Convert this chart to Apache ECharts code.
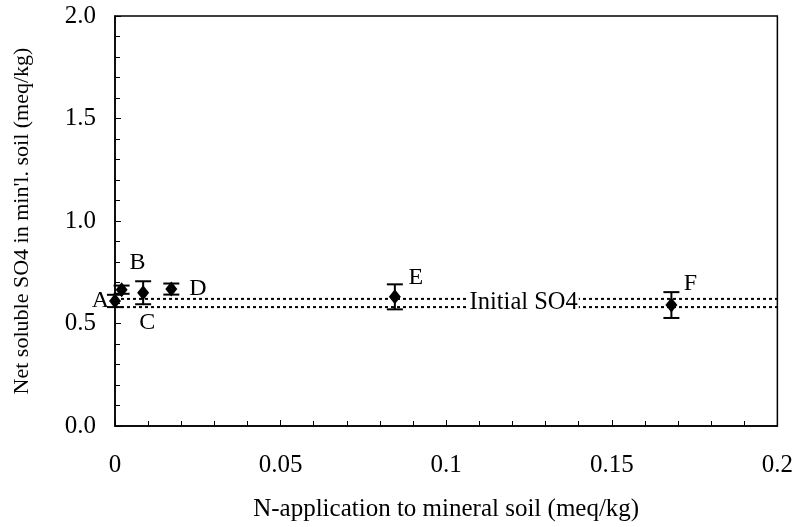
<!DOCTYPE html>
<html>
<head>
<meta charset="utf-8">
<script src="https://cdn.jsdelivr.net/npm/echarts@6/dist/echarts.min.js"></script>
<style>html,body{margin:0;padding:0;background:#fff}#chart{width:796px;height:527px}</style>
</head>
<body>
<div id="chart"></div>
<script>
// N-application (meq/kg) vs net soluble SO4 (meq/kg)
var names = ['A', 'B', 'C', 'D', 'E', 'F'];
var nApplied = [0, 0.002, 0.0085, 0.017, 0.0845, 0.168];
var so4 = [0.61, 0.665, 0.65, 0.668, 0.63, 0.59];
var so4Err = [0.03, 0.02, 0.056, 0.027, 0.061, 0.063];
var initialLow = 0.58;
var initialHigh = 0.62;
var initialMid = 0.60;
var initialText = 'Initial SO4';

var font = 'Liberation Serif, Times New Roman, serif';
var labelPos = {
  A: {position: 'left', offset: [5, 0]},
  B: {position: 'top', offset: [16, -2]},
  C: {position: 'bottom', offset: [4, 5]},
  D: {position: 'right', offset: [7, 0]},
  E: {position: 'top', offset: [21, 5]},
  F: {position: 'top', offset: [19, 3]}
};

var pts = nApplied.map(function (x, i) {
  var lp = labelPos[names[i]];
  return {
    value: [x, so4[i]],
    label: {show: true, formatter: names[i], position: lp.position, offset: lp.offset,
      color: '#000', fontFamily: font, fontSize: 24}
  };
});
var errData = nApplied.map(function (x, i) { return [x, so4[i] - so4Err[i], so4[i] + so4Err[i]]; });

var chart = echarts.init(document.getElementById('chart'));
chart.setOption({
  animation: false,
  grid: {left: 115, right: 18, top: 16, bottom: 101, show: true, borderColor: '#000', borderWidth: 1.5},
  xAxis: {
    type: 'value', min: 0, max: 0.2, interval: 0.05,
    name: 'N-application to mineral soil (meq/kg)', nameLocation: 'middle', nameGap: 71,
    nameTextStyle: {fontFamily: font, fontSize: 25, color: '#000'},
    axisLine: {show: true, onZero: false, lineStyle: {color: '#000', width: 1.5}},
    axisTick: {show: true, inside: true, length: 6, lineStyle: {color: '#000'}},
    minorTick: {show: true, splitNumber: 5, length: 5, lineStyle: {color: '#000'}},
    axisLabel: {margin: 27, fontFamily: font, fontSize: 25, color: '#000'},
    splitLine: {show: false}
  },
  yAxis: {
    type: 'value', min: 0, max: 2, interval: 0.5,
    name: "Net soluble SO4 in min'l. soil (meq/kg)", nameLocation: 'middle', nameGap: 82,
    nameTextStyle: {fontFamily: font, fontSize: 22, color: '#000'},
    axisLine: {show: true, lineStyle: {color: '#000', width: 1.5}},
    axisTick: {show: true, inside: true, length: 6, lineStyle: {color: '#000'}},
    minorTick: {show: true, splitNumber: 5, length: 5, lineStyle: {color: '#000'}},
    axisLabel: {margin: 19, fontFamily: font, fontSize: 25, color: '#000', padding: [6, 0, 0, 0],
      formatter: function (v) { return v.toFixed(1); }},
    splitLine: {show: false}
  },
  series: [
    {
      type: 'line', data: [[0, initialHigh], [0.2, initialHigh]], symbol: 'none', z: 1,
      lineStyle: {color: '#000', width: 2, type: [3, 3]}
    },
    {
      type: 'line', data: [[0, initialLow], [0.2, initialLow]], symbol: 'none', z: 1,
      lineStyle: {color: '#000', width: 2, type: [3, 3]}
    },
    {
      type: 'scatter', symbolSize: 0, z: 2,
      itemStyle: {opacity: 1},
      data: [[0.1234, initialMid]],
      label: {show: true, position: 'inside', formatter: initialText, color: '#000',
        fontFamily: font, fontSize: 24.5, backgroundColor: '#fff', padding: [0, 1]}
    },
    {
      type: 'custom', z: 3,
      data: errData,
      encode: {x: 0, y: [1, 2]},
      renderItem: function (params, api) {
        var lo = api.coord([api.value(0), api.value(1)]);
        var hi = api.coord([api.value(0), api.value(2)]);
        var w = 8;
        var st = {stroke: '#000', lineWidth: 2};
        return {type: 'group', children: [
          {type: 'line', shape: {x1: lo[0], y1: lo[1], x2: hi[0], y2: hi[1]}, style: st},
          {type: 'line', shape: {x1: lo[0] - w, y1: lo[1], x2: lo[0] + w, y2: lo[1]}, style: st},
          {type: 'line', shape: {x1: hi[0] - w, y1: hi[1], x2: hi[0] + w, y2: hi[1]}, style: st}
        ]};
      }
    },
    {
      type: 'scatter', symbol: 'diamond', symbolSize: [12, 15], z: 4,
      itemStyle: {color: '#000', opacity: 1},
      data: pts
    }
  ]
});
</script>
</body>
</html>
